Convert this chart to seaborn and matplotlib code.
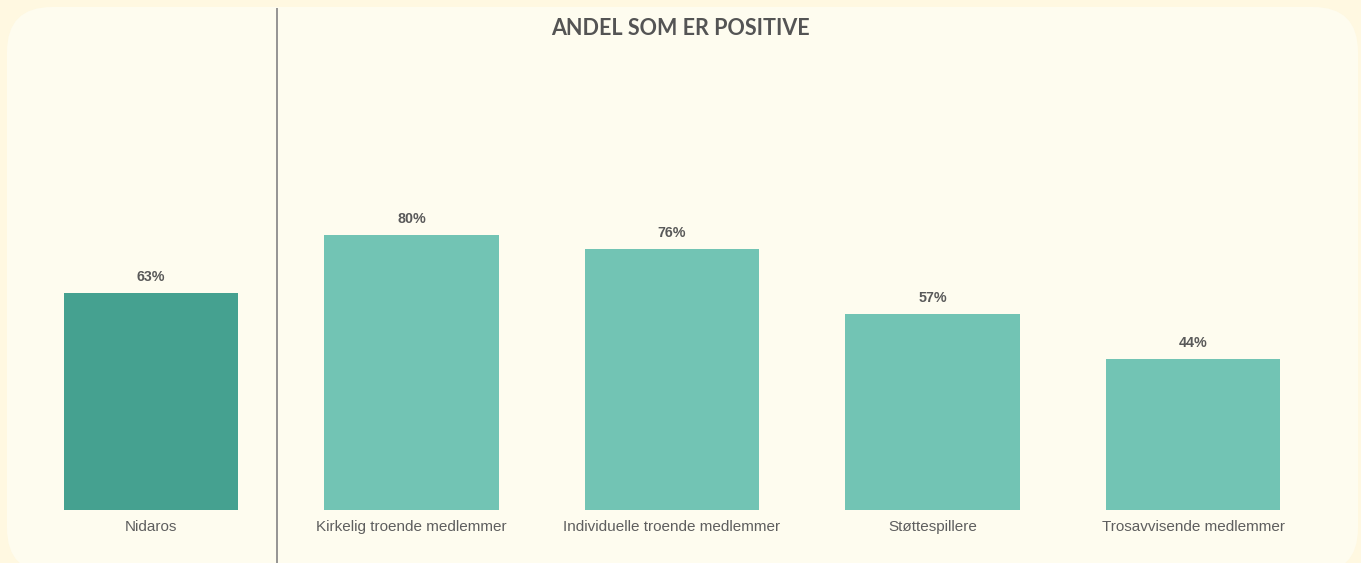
import matplotlib
matplotlib.use("Agg")
import matplotlib.pyplot as plt
from matplotlib.patches import FancyBboxPatch
import seaborn as sns
import pandas as pd

# Data
categories = ["Nidaros", "Kirkelig troende medlemmer", "Individuelle troende medlemmer",
              "Støttespillere", "Trosavvisende medlemmer"]
values = [63, 80, 76, 57, 44]
value_labels = ["63%", "80%", "76%", "57%", "44%"]
title = "ANDEL SOM ER POSITIVE"

bar_colors = ["#45A190", "#72C4B4", "#72C4B4", "#72C4B4", "#72C4B4"]
outer_bg = "#FFF8E1"
panel_bg = "#FEFCEF"
text_col = "#595959"

sns.set_theme(style="white")
plt.rcParams["font.family"] = ["Liberation Sans", "DejaVu Sans"]

W, H, DPI = 1361, 563, 100
fig = plt.figure(figsize=(W / DPI, H / DPI), dpi=DPI)
fig.patch.set_facecolor(outer_bg)

# Rounded content panel
panel = FancyBboxPatch((7 / W, -10 / H), (1351 / W), (566 / H),
                       boxstyle="round,pad=0,rounding_size=0.033",
                       transform=fig.transFigure, facecolor=panel_bg,
                       edgecolor="none", zorder=-10, mutation_aspect=W / H)
fig.patches.append(panel)

ax = fig.add_axes([0, 0, 1, 1])
ax.set_facecolor("none")
ax.set_zorder(1)

df = pd.DataFrame({"category": categories, "value": values})
sns.barplot(data=df, x="category", y="value", hue="category",
            palette=bar_colors, width=0.668, saturation=1, legend=False,
            linewidth=0, ax=ax)

# Category spacing 260.5 px, first bar centred at x=151,
# baseline 53 px above the bottom edge, 3.44 px per percentage point.
step = 260.5
ax.set_xlim(-151 / step, (W - 151) / step)
ppu = 3.44
ax.set_ylim(-53 / ppu, (H - 53) / ppu)

for i, (v, lab) in enumerate(zip(values, value_labels)):
    ax.text(i, v + 16 / ppu, lab, ha="center", va="center",
            fontsize=10.3, fontweight="bold", color=text_col)

ax.set_xticks(range(len(categories)))
ax.set_xticklabels(categories, fontsize=9.6)
ax.spines["bottom"].set_position(("data", 0))
ax.tick_params(axis="x", length=0, pad=7, labelcolor="#5E5E5E")
ax.set_yticks([])
ax.set_xlabel("")
ax.set_ylabel("")
for s in ax.spines.values():
    s.set_visible(False)

# Separator between the total and the groups
sep_x = (277 - 151) / step
ax.plot([sep_x, sep_x], [-60 / ppu, (H - 53 - 8) / ppu], color="#8C8C8C",
        linewidth=1.3, solid_capstyle="butt")

fig.text(680 / W, 1 - 28.5 / H, title, ha="center", va="center",
         fontsize=15.5, fontweight="bold", color="#545454",
         family=["Lato", "DejaVu Sans"])

fig.savefig("out.png", dpi=DPI, facecolor=outer_bg)
